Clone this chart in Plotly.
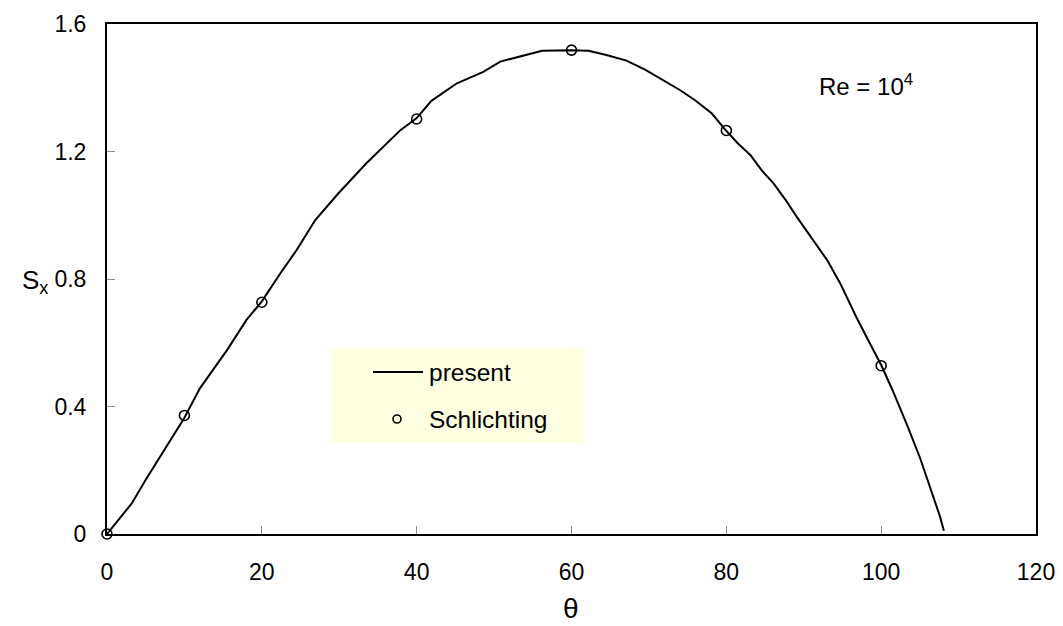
import plotly.graph_objects as go

theta_present = [0, 1.5, 3.2, 5, 6.85, 8.5, 10, 12, 14, 15.5, 18, 20, 22.4, 24.5, 26.9,
                 29.9, 33.5, 37.9, 40, 41.9, 45.2, 48.6, 50.8, 52.1, 54, 56.2, 60, 62.2,
                 64.5, 67.1, 69.5, 71.9, 74, 76, 78.1, 79.8, 81.5, 83.1, 84.6, 86.1, 87.6,
                 89.1, 91, 93, 94.7, 96.8, 98.5, 100, 101.4, 103.3, 105, 106.3, 107.6, 108.1]
sx_present = [0, 0.045, 0.096, 0.17, 0.243, 0.31, 0.365, 0.457, 0.527, 0.577, 0.671, 0.73,
              0.818, 0.891, 0.985, 1.069, 1.163, 1.267, 1.305, 1.359, 1.414, 1.45, 1.482,
              1.49, 1.503, 1.516, 1.518, 1.516, 1.503, 1.485, 1.457, 1.424, 1.393, 1.36,
              1.32, 1.27, 1.225, 1.189, 1.14, 1.10, 1.05, 0.995, 0.93, 0.86, 0.787, 0.68,
              0.60, 0.53, 0.455, 0.345, 0.24, 0.15, 0.055, 0.01]

# Schlichting
theta_schl = [0, 10, 20, 40, 60, 80, 100]
sx_schl = [0, 0.372, 0.727, 1.302, 1.518, 1.266, 0.528]

x_ticks = [0, 20, 40, 60, 80, 100, 120]
y_ticks = [0, 0.4, 0.8, 1.2, 1.6]
y_tick_text = ["0", "0.4", "0.8", "1.2", "1.6"]

FONT = "Liberation Sans, Arial, sans-serif"

fig = go.Figure()
fig.add_trace(go.Scatter(x=theta_present, y=sx_present, mode="lines", name="present",
                         line=dict(color="black", width=2), showlegend=False))
fig.add_trace(go.Scatter(x=theta_schl, y=sx_schl, mode="markers", name="Schlichting",
                         marker=dict(symbol="circle-open", size=10, color="black",
                                     line=dict(width=1.6, color="black")),
                         cliponaxis=False, showlegend=False))

W, H = 1063, 626
L, R, T, B = 107, 27, 24, 92
pw, ph = W - L - R, H - T - B

def px(xp):
    return (xp - L) / pw

def py(yp):
    return (H - B - yp) / ph

# manual legend
fig.add_shape(type="rect", xref="paper", yref="paper",
              x0=px(330), x1=px(585), y0=py(443), y1=py(348),
              fillcolor="#FFFFE2", line=dict(width=0), layer="below")
fig.add_shape(type="line", xref="paper", yref="paper",
              x0=px(373), x1=px(423), y0=py(372), y1=py(372),
              line=dict(color="black", width=2))
fig.add_shape(type="circle", xref="paper", yref="paper",
              xsizemode="pixel", ysizemode="pixel",
              xanchor=px(397), yanchor=py(419),
              x0=-4, x1=4, y0=-4, y1=4,
              line=dict(color="black", width=1.6), fillcolor="rgba(0,0,0,0)")
fig.add_annotation(xref="paper", yref="paper", x=px(427), y=py(372), text="present",
                   showarrow=False, xanchor="left", yanchor="middle",
                   font=dict(family=FONT, size=24.5, color="black"))
fig.add_annotation(xref="paper", yref="paper", x=px(427), y=py(419), text="Schlichting",
                   showarrow=False, xanchor="left", yanchor="middle",
                   font=dict(family=FONT, size=24.5, color="black"))

# Re label
fig.add_annotation(xref="paper", yref="paper", x=px(817), y=py(85),
                   text="Re = 10<sup>4</sup>", showarrow=False,
                   xanchor="left", yanchor="middle",
                   font=dict(family=FONT, size=24, color="black"))

# axis titles
fig.add_annotation(xref="paper", yref="paper", x=px(571), y=py(608), text="θ",
                   showarrow=False, xanchor="center", yanchor="middle",
                   font=dict(family=FONT, size=28, color="black"))
fig.add_annotation(xref="paper", yref="paper", x=px(20), y=py(281), text="S<sub>x</sub>",
                   showarrow=False, xanchor="left", yanchor="middle",
                   font=dict(family=FONT, size=26, color="black"))

axis_common = dict(showgrid=False, zeroline=False, showline=True, linecolor="black",
                   linewidth=2, mirror=True, ticks="inside", ticklen=8, tickwidth=1,
                   tickcolor="#888888", automargin=False,
                   tickfont=dict(family=FONT, size=23, color="black"))

fig.update_xaxes(range=[0, 120], tickvals=x_ticks, ticklabelstandoff=16, **axis_common)
fig.update_yaxes(range=[0, 1.6], tickvals=y_ticks, ticktext=y_tick_text,
                 ticklabelstandoff=14, **axis_common)

fig.update_layout(width=W, height=H,
                  margin=dict(l=L, r=R, t=T, b=B, autoexpand=False),
                  plot_bgcolor="white", paper_bgcolor="white",
                  font=dict(family=FONT, color="black"), showlegend=False)

fig.write_html("out.html")
